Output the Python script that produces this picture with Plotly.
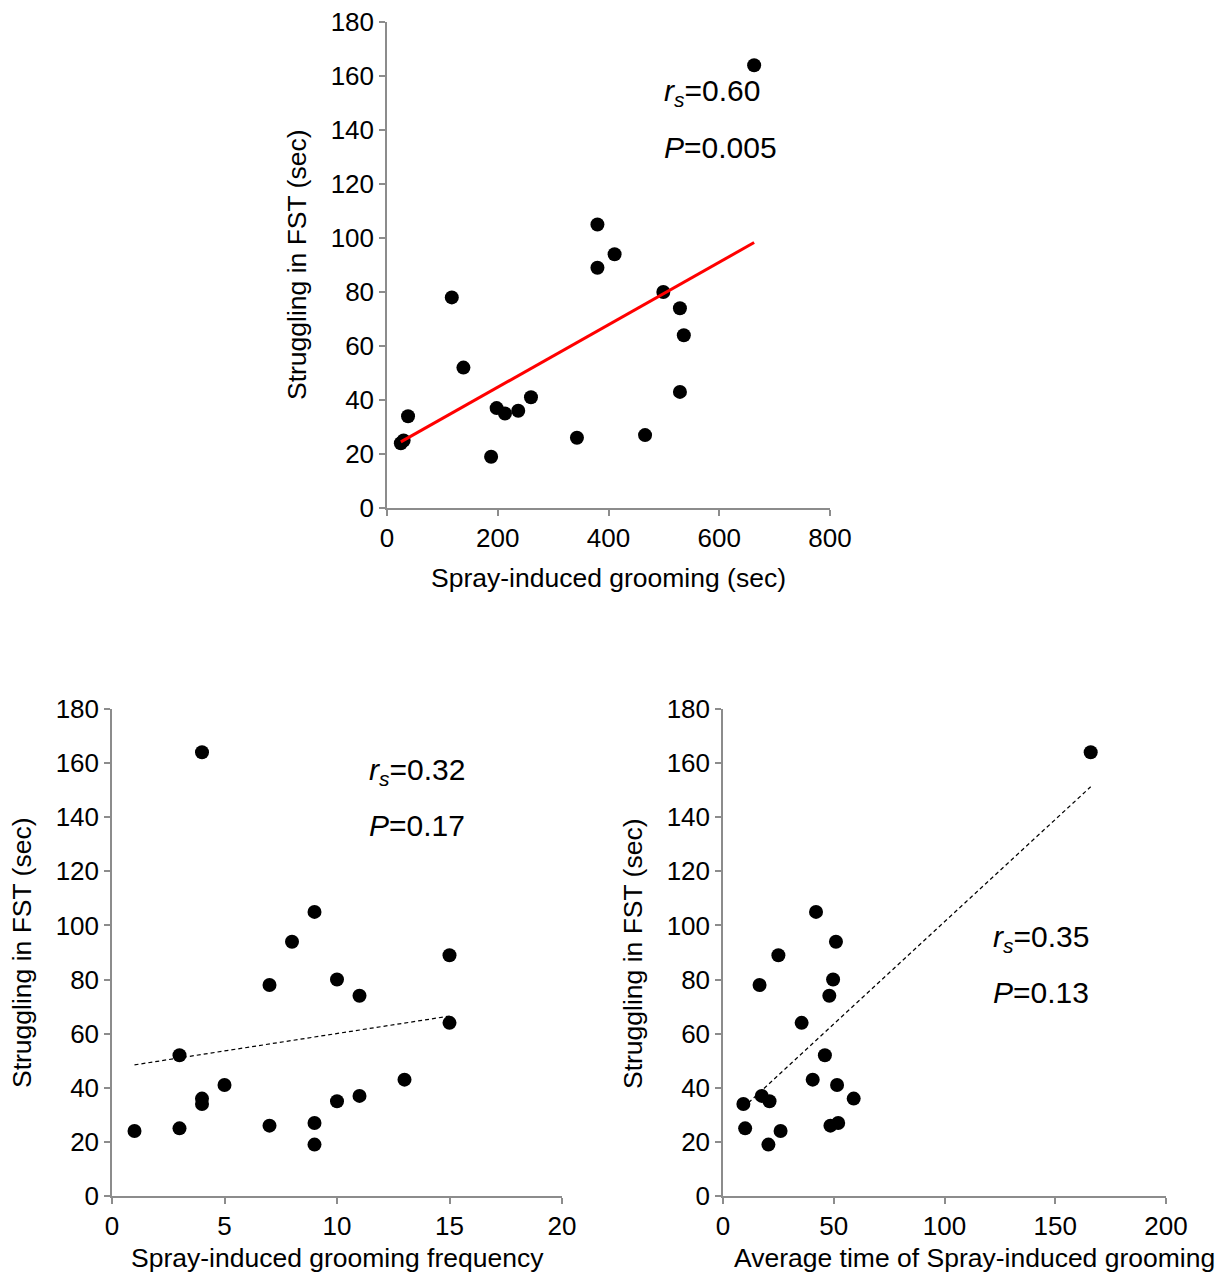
import numpy as np
import plotly.graph_objects as go

# ---- data ----
struggling = [24, 25, 34, 78, 52, 19, 37, 35, 36, 41, 26, 105, 89, 94, 27, 80, 74, 64, 43, 164]
grooming_time = [25, 30, 38, 117, 138, 188, 198, 213, 237, 260, 343, 380, 380, 411, 466, 499, 529, 536, 529, 663]

freq_x = [4, 9, 8, 15, 7, 10, 11, 15, 3, 5, 4, 4, 13, 11, 10, 1, 3, 7, 9, 9]
freq_y = [164, 105, 94, 89, 78, 80, 74, 64, 52, 41, 36, 34, 43, 37, 35, 24, 25, 26, 27, 19]

avg_x = [166, 42, 51, 25, 16.5, 49.7, 48, 35.5, 46, 40.5, 51.5, 17.5, 21, 9.2, 59, 52, 48.5, 10, 26, 20.5]
avg_y = [164, 105, 94, 89, 78, 80, 74, 64, 52, 43, 41, 37, 35, 34, 36, 27, 26, 25, 24, 19]

x_ticks_top = [0, 200, 400, 600, 800]
x_ticks_freq = [0, 5, 10, 15, 20]
x_ticks_avg = [0, 50, 100, 150, 200]
y_ticks = [0, 20, 40, 60, 80, 100, 120, 140, 160, 180]

# page body has an 8px margin; figure sized to fit the 1226x1283 window
OFF = 8
W, H = 1226 - 2 * OFF, 1283 - 2 * OFF
FONT = "Liberation Sans, Arial, sans-serif"
AXC = "#8c8c8c"


def px2x(p):
    return (p - OFF) / W


def px2y(p):
    return 1 - (p - OFF) / H


def fit(x, y):
    x = np.asarray(x, float)
    y = np.asarray(y, float)
    m, b = np.polyfit(x, y, 1)
    xs = np.array([x.min(), x.max()])
    return xs, m * xs + b


fig = go.Figure()

panels = [
    ("x", "y", grooming_time, struggling, dict(color="#ff0000", width=3)),
    ("x2", "y2", freq_x, freq_y, dict(color="black", width=1.2, dash="4px,3px")),
    ("x3", "y3", avg_x, avg_y, dict(color="black", width=1.2, dash="4px,3px")),
]
for xa, ya, xs, ys, ln in panels:
    tx, ty = fit(xs, ys)
    fig.add_trace(go.Scatter(x=xs, y=ys, mode="markers", xaxis=xa, yaxis=ya,
                             marker=dict(color="black", size=14), showlegend=False))
    fig.add_trace(go.Scatter(x=tx, y=ty, mode="lines", xaxis=xa, yaxis=ya,
                             line=ln, showlegend=False))


def axis(domain, rng, ticks, anchor):
    return dict(domain=domain, range=rng, tickvals=ticks, ticktext=[str(t) for t in ticks],
                showgrid=False, zeroline=False, showline=True, linecolor=AXC, linewidth=1.5,
                ticks="outside", ticklen=6, tickcolor=AXC, tickwidth=1.5, automargin=False,
                ticklabeloverflow="allow",
                tickfont=dict(family=FONT, size=26, color="black"), anchor=anchor)


fig.update_layout(
    template="none",
    width=W, height=H, autosize=False,
    margin=dict(l=0, r=0, t=0, b=0, pad=0),
    paper_bgcolor="white", plot_bgcolor="white",
    xaxis=axis([px2x(387), px2x(830)], [0, 800], x_ticks_top, "y"),
    yaxis=axis([px2y(508), px2y(22)], [0, 180], y_ticks, "x"),
    xaxis2=axis([px2x(112), px2x(562)], [0, 20], x_ticks_freq, "y2"),
    yaxis2=axis([px2y(1196), px2y(709)], [0, 180], y_ticks, "x2"),
    xaxis3=axis([px2x(723), px2x(1166)], [0, 200], x_ticks_avg, "y3"),
    yaxis3=axis([px2y(1196), px2y(709)], [0, 180], y_ticks, "x3"),
)

ann = []
tf = dict(family=FONT, size=26.5, color="black")
# axis titles
ann.append(dict(text="Spray-induced grooming (sec)", x=px2x(608.5), y=px2y(578), xanchor="center", yanchor="middle", font=tf))
ann.append(dict(text="Spray-induced grooming frequency", x=px2x(337), y=px2y(1258), xanchor="center", yanchor="middle", font=tf))
ann.append(dict(text="Average time of Spray-induced grooming", x=px2x(974.5), y=px2y(1258), xanchor="center", yanchor="middle", font=tf))
for cx, cy in [(297, 265), (22, 953), (633, 953)]:
    ann.append(dict(text="Struggling in FST (sec)", x=px2x(cx), y=px2y(cy), xanchor="center", yanchor="middle",
                    textangle=-90, font=tf))

sf = dict(family=FONT, size=30, color="black")
stats = [
    ("0.60", "0.005", 662, 93, 148),
    ("0.32", "0.17", 367, 771, 825),
    ("0.35", "0.13", 991, 938, 993),
]
for r, p, lx, ry, py in stats:
    ann.append(dict(text="<i>r</i><sub><i>s</i></sub>=" + r, x=px2x(lx), y=px2y(ry), xanchor="left", yanchor="middle", font=sf))
    ann.append(dict(text="<i>P</i>=" + p, x=px2x(lx), y=px2y(py), xanchor="left", yanchor="middle", font=sf))

for a in ann:
    a.update(xref="paper", yref="paper", showarrow=False)
fig.update_layout(annotations=ann)

fig.write_html("out.html")
